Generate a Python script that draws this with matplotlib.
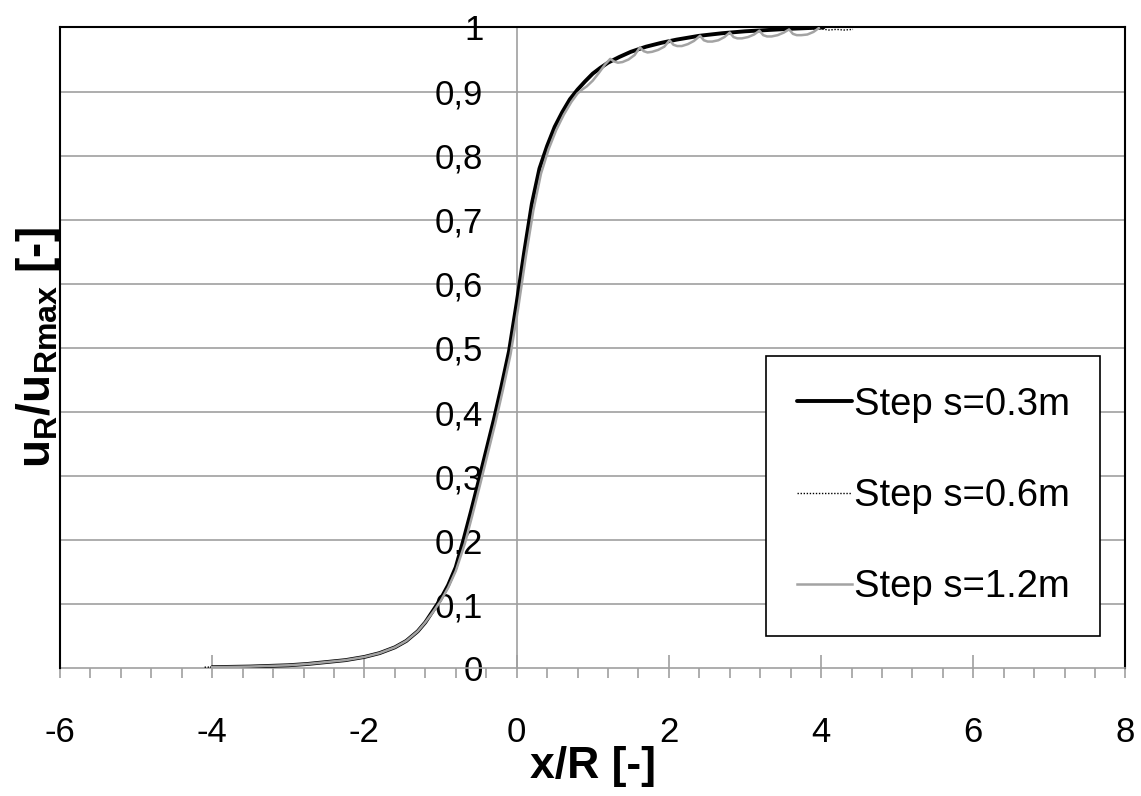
import numpy as np
import matplotlib
matplotlib.use("Agg")
import matplotlib.pyplot as plt
from matplotlib.ticker import MultipleLocator, FixedLocator

plt.rcParams['font.family'] = ['Liberation Sans', 'DejaVu Sans']
plt.rcParams['mathtext.fontset'] = 'custom'
plt.rcParams['mathtext.rm'] = 'Liberation Sans'
plt.rcParams['mathtext.bf'] = 'Liberation Sans:bold'
plt.rcParams['mathtext.it'] = 'Liberation Sans:italic'
plt.rcParams['axes.unicode_minus'] = False

# ---- data ----
x_s03 = [-4.0, -3.5, -3.0, -2.75, -2.5, -2.25, -2.0, -1.8, -1.6, -1.45, -1.3, -1.2,
         -1.1, -1.0, -0.9, -0.8, -0.7, -0.6, -0.5, -0.4, -0.3, -0.2, -0.1, 0.0,
         0.1, 0.2, 0.3, 0.4, 0.5, 0.6, 0.7, 0.8, 0.9, 1.0, 1.1, 1.2, 1.35, 1.5,
         1.7, 1.9, 2.1, 2.4, 2.7, 3.0, 3.3, 3.6, 4.03]
y_s03 = [0.002, 0.003, 0.005, 0.007, 0.010, 0.013, 0.018, 0.024, 0.033, 0.043, 0.058, 0.072,
         0.090, 0.108, 0.130, 0.158, 0.200, 0.245, 0.292, 0.340, 0.388, 0.440, 0.495, 0.570,
         0.650, 0.725, 0.780, 0.815, 0.845, 0.868, 0.888, 0.903, 0.916, 0.928, 0.937, 0.945, 0.954, 0.962,
         0.970, 0.976, 0.981, 0.987, 0.991, 0.994, 0.996, 0.998, 1.0]

x_s06 = [-4.1, -3.5, -3.0, -2.75, -2.5, -2.25, -2.0, -1.8, -1.6, -1.45, -1.3, -1.2,
         -1.1, -1.0, -0.9, -0.8, -0.7, -0.6, -0.5, -0.4, -0.3, -0.2, -0.1, 0.0,
         0.1, 0.2, 0.3, 0.4, 0.5, 0.6, 0.7, 0.8, 0.9, 1.0, 1.1, 1.2, 1.35, 1.5,
         1.7, 1.9, 2.1, 2.4, 2.7, 3.0, 3.3, 3.6, 4.0, 4.1, 4.2, 4.3, 4.42]
y_s06 = [0.002, 0.003, 0.005, 0.007, 0.010, 0.013, 0.018, 0.024, 0.033, 0.043, 0.058, 0.072,
         0.090, 0.108, 0.130, 0.158, 0.200, 0.245, 0.292, 0.340, 0.388, 0.440, 0.495, 0.570,
         0.650, 0.725, 0.780, 0.815, 0.845, 0.868, 0.888, 0.903, 0.916, 0.928, 0.937, 0.945, 0.954, 0.962,
         0.970, 0.976, 0.981, 0.987, 0.991, 0.994, 0.996, 0.998, 0.998, 0.996, 0.997, 0.996, 0.997]

x_s12 = [-4.0, -3.5, -3.0, -2.75, -2.5, -2.25, -2.0, -1.8, -1.6, -1.45, -1.3, -1.2,
         -1.1, -1.0, -0.9, -0.8, -0.68, -0.58, -0.48, -0.38, -0.28, -0.18, -0.08, 0.02,
         0.12, 0.22, 0.32, 0.42, 0.52, 0.62, 0.72, 0.80, 0.86, 0.92, 1.00, 1.08, 1.16,
         1.23, 1.28, 1.33, 1.39, 1.47, 1.55, 1.62, 1.67, 1.72, 1.78, 1.86, 1.94, 2.01,
         2.06, 2.11, 2.17, 2.25, 2.33, 2.41, 2.46, 2.51, 2.57, 2.65, 2.73, 2.80, 2.85,
         2.90, 2.96, 3.04, 3.12, 3.19, 3.24, 3.29, 3.35, 3.43, 3.51, 3.58, 3.63, 3.68,
         3.74, 3.82, 3.90, 3.97]
y_s12 = [0.002, 0.003, 0.005, 0.007, 0.010, 0.013, 0.018, 0.024, 0.033, 0.043, 0.058, 0.072,
         0.088, 0.105, 0.126, 0.152, 0.195, 0.240, 0.287, 0.335, 0.383, 0.435, 0.490, 0.562,
         0.642, 0.715, 0.772, 0.810, 0.840, 0.864, 0.884, 0.897, 0.903, 0.908, 0.917, 0.929, 0.942,
         0.951, 0.947, 0.945, 0.946, 0.950, 0.957, 0.969, 0.963, 0.961, 0.962, 0.965, 0.970, 0.980,
         0.973, 0.971, 0.971, 0.974, 0.979, 0.987, 0.980, 0.978, 0.978, 0.980, 0.985, 0.992, 0.985,
         0.983, 0.983, 0.985, 0.989, 0.995, 0.988, 0.986, 0.986, 0.988, 0.992, 0.997, 0.990, 0.988,
         0.988, 0.989, 0.993, 0.999]

labels = ['Step s=0.3m', 'Step s=0.6m', 'Step s=1.2m']
x_ticks = [-6, -4, -2, 0, 2, 4, 6, 8]
y_ticks = [0, 0.1, 0.2, 0.3, 0.4, 0.5, 0.6, 0.7, 0.8, 0.9, 1.0]
y_ticklabels = ['0', '0,1', '0,2', '0,3', '0,4', '0,5', '0,6', '0,7', '0,8', '0,9', '1']

GRID = '#a0a0a0'

fig = plt.figure(figsize=(11.41, 7.96), dpi=100)
ax = fig.add_axes([0.0526, 0.1602, 0.9338, 0.8053])
ax.set_xlim(-6, 8)
ax.set_ylim(0, 1)

# horizontal gridlines
for yv in y_ticks[1:-1]:
    ax.axhline(yv, color=GRID, lw=1.2, zorder=0)

ax.plot(x_s03, y_s03, color='black', lw=2.8, label=labels[0], zorder=3,
        solid_capstyle='round', solid_joinstyle='round')
ax.plot(x_s06, y_s06, color='black', lw=1.0, ls=(0, (1, 1.2)), label=labels[1], zorder=4)
ax.plot(x_s12, y_s12, color='#a3a3a3', lw=1.8, label=labels[2], zorder=5,
        solid_joinstyle='round')

# spines
ax.spines['left'].set_position(('data', 0))
ax.spines['left'].set_color(GRID)
ax.spines['left'].set_linewidth(1.2)
ax.spines['bottom'].set_color(GRID)
ax.spines['bottom'].set_linewidth(1.2)
ax.spines['top'].set_color('black')
ax.spines['top'].set_linewidth(1.5)
ax.spines['right'].set_color('black')
ax.spines['right'].set_linewidth(1.5)
ax.axvline(-6, color='black', lw=1.5, zorder=6, clip_on=False)

ax.set_yticks(y_ticks)
ax.set_yticklabels(y_ticklabels)
ax.tick_params(axis='y', length=0, pad=24, labelsize=25)

ax.xaxis.set_major_locator(FixedLocator(x_ticks))
ax.xaxis.set_minor_locator(MultipleLocator(0.4))
ax.xaxis.remove_overlapping_locs = False
ax.tick_params(axis='x', which='major', direction='in', length=9.5, color=GRID,
               width=1.2, labelsize=25, pad=34)
ax.tick_params(axis='x', which='minor', direction='out', length=7.5, color=GRID, width=1.2)

ax.set_xlabel('x/R [-]', fontsize=32, fontweight='bold', labelpad=-2)
fig.text(0.033, 0.5634, r'$\mathbf{u_R/u_{Rmax}}$ [-]', rotation=90, fontsize=33,
         fontweight='bold', ha='center', va='center')

leg = ax.legend(loc='upper left', bbox_to_anchor=(766 / 1141, 1 - 356 / 796),
                bbox_transform=fig.transFigure, fontsize=27.5, frameon=True,
                fancybox=False, edgecolor='black', framealpha=1,
                handlelength=1.45, handletextpad=0.05, labelspacing=1.45,
                borderpad=0.8, borderaxespad=0)
leg.get_frame().set_linewidth(1.2)

fig.savefig('out.png', dpi=100)
